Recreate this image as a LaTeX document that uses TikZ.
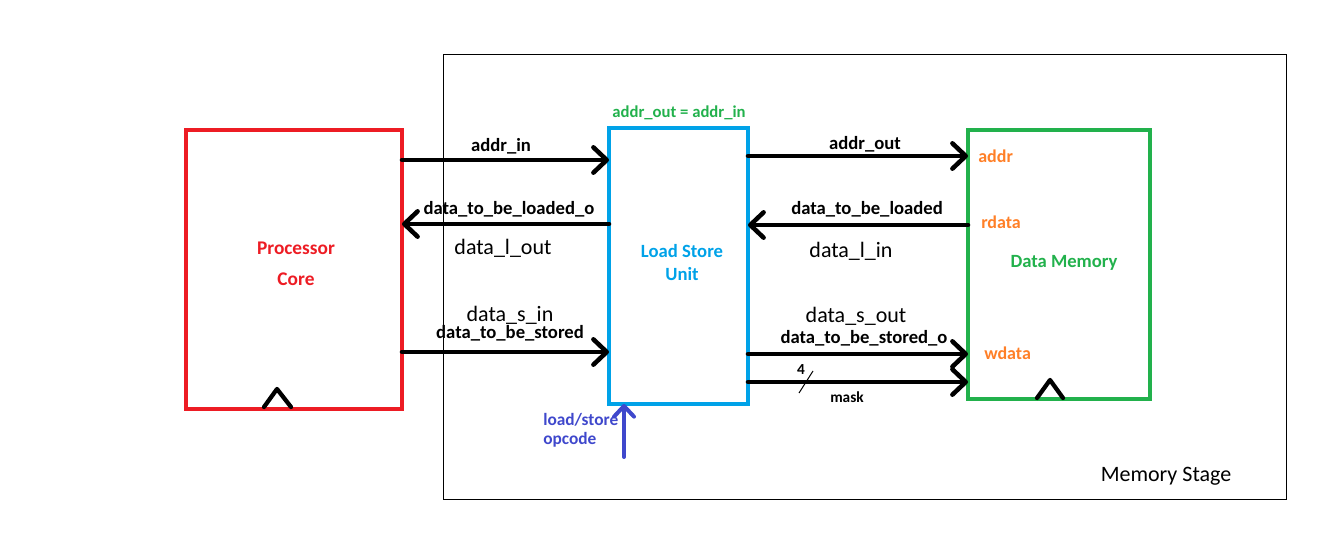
\documentclass[tikz,border=0pt]{standalone}
\usepackage{fontspec}
\setmainfont{Carlito}
\usetikzlibrary{arrows.meta,calc}
\definecolor{corered}{RGB}{237,28,36}
\definecolor{lsublue}{RGB}{0,162,232}
\definecolor{memgreen}{RGB}{34,177,76}
\definecolor{portorange}{RGB}{255,127,39}
\definecolor{opindigo}{RGB}{63,72,204}
\begin{document}
\begin{tikzpicture}[x=0.75pt,y=-0.75pt,
  unit/.style={draw,line width=3pt,inner sep=0pt,outer sep=0pt},
  sig/.style={line width=3.4pt,line cap=round,
    -{Straight Barb[length=10pt,width=19pt,round,line width=3.4pt]}},
  lbl/.style={inner sep=0pt,font=\fontsize{14}{16}\selectfont\bfseries},
  bus/.style={inner sep=0pt,font=\fontsize{16.5}{19}\selectfont},
  port/.style={inner sep=0pt,anchor=west,text=portorange,font=\fontsize{13.5}{16}\selectfont\bfseries},
  clk/.style={line width=3.2pt,line cap=round,line join=round}]
\useasboundingbox (0,0) rectangle (1342,548);

% stage frame
\node[draw,line width=0.75pt,inner sep=0pt,minimum width=843*0.75pt,minimum height=445*0.75pt] (stage) at (864.5,277.5) {};
\node[inner sep=0pt,font=\fontsize{16.5}{19}\selectfont] (stagelbl) at (1166,476) {Memory Stage};

% functional units
\node[unit,draw=corered,minimum width=216*0.75pt,minimum height=279*0.75pt] (core) at (294,269.5) {};
\node[unit,draw=lsublue,minimum width=139*0.75pt,minimum height=276*0.75pt] (lsu) at (678.5,266) {};
\node[unit,draw=memgreen,minimum width=182*0.75pt,minimum height=269*0.75pt] (dmem) at (1059,264.5) {};

\node[inner sep=0pt,text=corered,align=center,font=\fontsize{14.5}{23}\selectfont\bfseries] (corelbl) at (296,263.5) {Processor\\Core};
\node[inner sep=0pt,text=lsublue,align=center,font=\fontsize{14}{17}\selectfont\bfseries] (lsulbl) at (682,262.5) {Load Store\\Unit};
\node[inner sep=0pt,text=memgreen,font=\fontsize{14}{16}\selectfont\bfseries] (dmemlbl) at (1064,263) {Data Memory};
\node[inner sep=0pt,text=memgreen,font=\fontsize{12.5}{14}\selectfont\bfseries] (eqlbl) at (679,113) {addr\_out = addr\_in};

% memory ports
\node[port] (paddr) at (978,156) {addr};
\node[port] (prdata) at (981,222) {rdata};
\node[port] (pwdata) at (984,353) {wdata};

% clock marks
\coordinate (cclk) at (core.south -| 277,0);
\draw[clk] ($(cclk)+(-13,-2)$) -- ($(cclk)+(0,-20)$) -- ($(cclk)+(14,-2)$);
\coordinate (mclk) at (dmem.south -| 1050,0);
\draw[clk] ($(mclk)+(-13,-1)$) -- ($(mclk)+(0,-19)$) -- ($(mclk)+(13,-1)$);

% core <-> load store unit
\draw[sig] (core.east |- 0,160) -- (lsu.west |- 0,160);
\node[lbl] (l1) at (501,146) {addr\_in};
\draw[sig] (lsu.west |- 0,224) -- (core.east |- 0,224);
\node[lbl] (l2) at (509,209) {data\_to\_be\_loaded\_o};
\node[bus] (l3) at (503,248) {data\_l\_out};
\node[bus] (l4) at (510,315) {data\_s\_in};
\node[lbl] (l5) at (510,333) {data\_to\_be\_stored};
\draw[sig] (core.east |- 0,352) -- (lsu.west |- 0,352);

% load store unit <-> data memory
\draw[sig] (lsu.east |- 0,156) -- (dmem.west |- 0,156);
\node[lbl] (r1) at (865,144) {addr\_out};
\draw[sig] (dmem.west |- 0,225) -- (lsu.east |- 0,225);
\node[lbl] (r2) at (867,209) {data\_to\_be\_loaded};
\node[bus] (r3) at (851,251) {data\_l\_in};
\node[bus] (r4) at (856,316) {data\_s\_out};
\node[lbl] (r5) at (864,338) {data\_to\_be\_stored\_o};
\draw[sig] (lsu.east |- 0,354) -- (dmem.west |- 0,354);
\draw[sig] (lsu.east |- 0,382) -- (dmem.west |- 0,382);
\coordinate (sl1) at (799,393);
\coordinate (sl2) at (813,371);
\draw[line width=0.75pt] (sl1) -- (sl2);
\node[inner sep=0pt,font=\fontsize{11.5}{13}\selectfont\bfseries] (w4) at (801,370) {4};
\node[inner sep=0pt,font=\fontsize{11.5}{13}\selectfont\bfseries] (mask) at (847,397) {mask};

% opcode input
\coordinate (opsrc) at (624,457);
\draw[line width=3pt,line cap=round,draw=opindigo,
  -{Straight Barb[length=8pt,width=15pt,round,line width=3pt]}] (opsrc) -- (lsu.south -| opsrc);
\node[inner sep=0pt,anchor=west,text=opindigo,align=left,font=\fontsize{13}{14.5}\selectfont\bfseries] (oplbl) at (543,430.5) {load/store\\opcode};
\end{tikzpicture}
\end{document}
